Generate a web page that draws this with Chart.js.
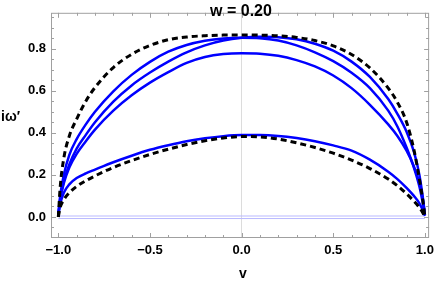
<!DOCTYPE html>
<html>
<head>
<meta charset="utf-8">
<style>
  html, body { margin: 0; padding: 0; background: #fff; }
  .chart-box { width: 439px; height: 284px; position: relative; }
</style>
</head>
<body>
<div class="chart-box">
  <canvas id="omegaChart"></canvas>
</div>
<script src="https://cdn.jsdelivr.net/npm/chart.js"></script>
<script>
  // sample points along v, shared by every curve
  const vGrid = [-1, -0.99, -0.97, -0.94, -0.9, -0.85, -0.8, -0.7, -0.6, -0.5, -0.4, -0.3, -0.2, -0.1, 0,
                 0.1, 0.2, 0.3, 0.4, 0.5, 0.6, 0.7, 0.8, 0.85, 0.9, 0.94, 0.97, 0.99, 1];

  const dashedUpper = [0, 0.14, 0.28, 0.385, 0.465, 0.55, 0.615, 0.71, 0.773, 0.815, 0.842, 0.855, 0.861, 0.864, 0.865,
                       0.864, 0.861, 0.853, 0.838, 0.813, 0.772, 0.708, 0.612, 0.545, 0.45, 0.32, 0.18, 0.07, 0];
  const blueA = [0.01, 0.1, 0.2, 0.295, 0.37, 0.44, 0.5, 0.597, 0.675, 0.737, 0.785, 0.817, 0.837, 0.848, 0.851,
                 0.849, 0.838, 0.815, 0.782, 0.74, 0.685, 0.612, 0.505, 0.43, 0.33, 0.235, 0.145, 0.06, 0.01];
  const blueB = [0.01, 0.085, 0.17, 0.25, 0.325, 0.39, 0.45, 0.548, 0.625, 0.686, 0.738, 0.782, 0.815, 0.838, 0.851,
                 0.856, 0.854, 0.844, 0.823, 0.79, 0.738, 0.665, 0.56, 0.49, 0.405, 0.31, 0.2, 0.085, 0.01];
  const blueC = [0.01, 0.08, 0.16, 0.235, 0.3, 0.36, 0.415, 0.505, 0.578, 0.638, 0.688, 0.732, 0.76, 0.774, 0.778,
                 0.776, 0.766, 0.745, 0.715, 0.672, 0.612, 0.533, 0.44, 0.385, 0.315, 0.24, 0.16, 0.08, 0.01];
  const blueLower = [0.01, 0.06, 0.115, 0.155, 0.185, 0.207, 0.225, 0.26, 0.291, 0.319, 0.341, 0.36, 0.374, 0.384, 0.389,
                     0.389, 0.385, 0.375, 0.36, 0.34, 0.315, 0.272, 0.215, 0.18, 0.138, 0.1, 0.065, 0.03, 0.005];
  const dashedLower = [0, 0.045, 0.082, 0.115, 0.145, 0.172, 0.195, 0.235, 0.268, 0.297, 0.322, 0.344, 0.362, 0.375, 0.382,
                       0.38, 0.37, 0.352, 0.33, 0.303, 0.27, 0.23, 0.18, 0.148, 0.11, 0.075, 0.045, 0.018, 0];
  const zeroLevels = [0.0045, -0.0075];
  const zeroSpan = [-1, 1];

  const xTickValues = [-1, -0.5, 0, 0.5, 1];
  const yTickValues = [0, 0.2, 0.4, 0.6, 0.8];

  const pts = arr => vGrid.map((v, i) => ({ x: v, y: arr[i] }));
  const fmt = v => (v < 0 ? '\u2212' : '') + Math.abs(v).toFixed(1);
  const FONT = '"Liberation Sans", Arial, sans-serif';

  const curve = (arr, color, dashed) => ({
    data: pts(arr),
    borderColor: color,
    borderWidth: dashed ? 3 : 2.5,
    borderDash: dashed ? [6, 4] : [],
    pointRadius: 0,
    cubicInterpolationMode: 'monotone',
    fill: false,
  });

  const datasets = [
    curve(dashedUpper, '#000', true),
    curve(dashedLower, '#000', true),
    curve(blueA, '#0000ff', false),
    curve(blueB, '#0000ff', false),
    curve(blueC, '#0000ff', false),
    curve(blueLower, '#0000ff', false),
  ];
  zeroLevels.forEach(z => {
    datasets.push({
      data: zeroSpan.map(v => ({ x: v, y: z })),
      borderColor: 'rgb(185,185,255)',
      borderWidth: 1,
      pointRadius: 0,
    });
  });

  // frame with inward ticks, plus the texts Mathematica puts inside/around the frame
  const framePlugin = {
    id: 'framePlugin',
    afterDraw(chart) {
      const { ctx, chartArea: a, scales: { x, y } } = chart;
      ctx.save();
      ctx.strokeStyle = '#a0a0a0';
      ctx.lineWidth = 1;
      ctx.strokeRect(a.left + 0.5, a.top + 0.5, a.width - 1, a.height - 1);
      ctx.beginPath();
      for (let i = -10; i <= 10; i++) {
        const px = Math.round(x.getPixelForValue(i / 10)) + 0.5;
        const len = i % 5 === 0 ? 5 : 3;
        ctx.moveTo(px, a.bottom); ctx.lineTo(px, a.bottom - len);
        ctx.moveTo(px, a.top); ctx.lineTo(px, a.top + len);
      }
      for (let i = -2; i <= 19; i++) {
        const py = Math.round(y.getPixelForValue(i / 20)) + 0.5;
        if (py < a.top || py > a.bottom) continue;
        const len = i % 4 === 0 ? 5 : 3;
        ctx.moveTo(a.left, py); ctx.lineTo(a.left + len, py);
        ctx.moveTo(a.right, py); ctx.lineTo(a.right - len, py);
      }
      ctx.stroke();

      ctx.fillStyle = '#000';
      ctx.textAlign = 'center';
      ctx.textBaseline = 'middle';
      ctx.font = 'bold 16px ' + FONT;
      ctx.fillText('w = 0.20', 241, 12);
      ctx.font = 'bold 14px ' + FONT;
      ctx.fillText('v', 243, 274);
      ctx.textAlign = 'left';
      ctx.fillText('i\u03c9\u2032', 1, 117);
      ctx.restore();
    }
  };

  new Chart(document.getElementById('omegaChart'), {
    type: 'line',
    data: { datasets },
    options: {
      responsive: true,
      maintainAspectRatio: false,
      animation: false,
      layout: { padding: { left: 0, right: 7, top: 0, bottom: 0 } },
      plugins: { legend: { display: false }, tooltip: { enabled: false } },
      scales: {
        x: {
          type: 'linear',
          min: -1.04,
          max: 1.023,
          afterBuildTicks: s => { s.ticks = xTickValues.map(v => ({ value: v })); },
          afterFit: s => { s.height = 46; },
          grid: {
            drawTicks: false,
            color: c => (c.tick && c.tick.value === 0 ? '#dcdcdc' : 'rgba(0,0,0,0)'),
          },
          border: { display: false },
          ticks: {
            padding: 5,
            maxRotation: 0,
            autoSkip: false,
            color: '#000',
            font: { family: FONT, size: 13, weight: 'bold' },
            callback: v => fmt(v),
          },
        },
        y: {
          type: 'linear',
          min: -0.1,
          max: 0.97,
          afterBuildTicks: s => { s.ticks = yTickValues.map(v => ({ value: v })); },
          afterFit: s => { s.width = 51; },
          grid: { display: false, drawTicks: false },
          border: { display: false },
          ticks: {
            padding: 5,
            autoSkip: false,
            color: '#000',
            font: { family: FONT, size: 13, weight: 'bold' },
            callback: v => fmt(v),
          },
        },
      },
    },
    plugins: [framePlugin],
  });
</script>
</body>
</html>
